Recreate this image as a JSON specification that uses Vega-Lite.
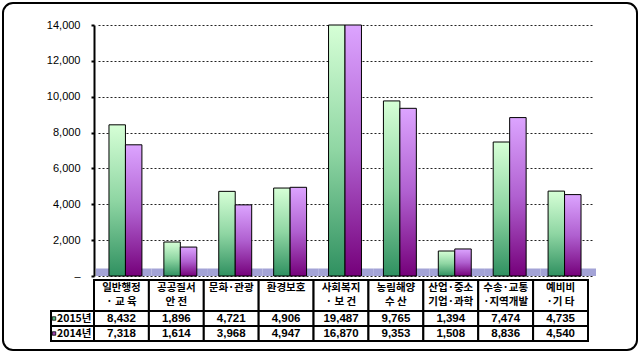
{
  "$schema": "https://vega.github.io/schema/vega-lite/v6.json",
  "autosize": {"type": "none"},
  "padding": {"left": 3, "top": 3, "right": 6, "bottom": 6},
  "width": 634,
  "height": 347,
  "background": "white",
  "config": {
    "view": {"stroke": "black", "strokeWidth": 2, "cornerRadius": 10, "fill": "white"},
    "text": {"font": "Noto Sans CJK KR"}
  },
  "datasets": {
    "vals": [
      {"cat": "일반행정·교육", "year": "2015", "value": 8432},
      {"cat": "공공질서·안전", "year": "2015", "value": 1896},
      {"cat": "문화·관광", "year": "2015", "value": 4721},
      {"cat": "환경보호", "year": "2015", "value": 4906},
      {"cat": "사회복지·보건", "year": "2015", "value": 19487},
      {"cat": "농림해양·수산", "year": "2015", "value": 9765},
      {"cat": "산업·중소기업·과학", "year": "2015", "value": 1394},
      {"cat": "수송·교통·지역개발", "year": "2015", "value": 7474},
      {"cat": "예비비·기타", "year": "2015", "value": 4735},
      {"cat": "일반행정·교육", "year": "2014", "value": 7318},
      {"cat": "공공질서·안전", "year": "2014", "value": 1614},
      {"cat": "문화·관광", "year": "2014", "value": 3968},
      {"cat": "환경보호", "year": "2014", "value": 4947},
      {"cat": "사회복지·보건", "year": "2014", "value": 16870},
      {"cat": "농림해양·수산", "year": "2014", "value": 9353},
      {"cat": "산업·중소기업·과학", "year": "2014", "value": 1508},
      {"cat": "수송·교통·지역개발", "year": "2014", "value": 8836},
      {"cat": "예비비·기타", "year": "2014", "value": 4540}
    ],
    "cats": [
      {"cat": "일반행정·교육", "label": "일반행정\n· 교   육"},
      {"cat": "공공질서·안전", "label": "공공질서\n안   전"},
      {"cat": "문화·관광", "label": "문화·관광"},
      {"cat": "환경보호", "label": "환경보호"},
      {"cat": "사회복지·보건", "label": "사회복지\n· 보  건"},
      {"cat": "농림해양·수산", "label": "농림해양\n수    산"},
      {"cat": "산업·중소기업·과학", "label": "산업·중소\n기업·과학"},
      {"cat": "수송·교통·지역개발", "label": "수송·교통\n·지역개발"},
      {"cat": "예비비·기타", "label": "예비비\n·기 타"}
    ],
    "years": [
      {"year": "2015", "label": "2015년"},
      {"year": "2014", "label": "2014년"}
    ]
  },
  "resolve": {"scale": {"x": "independent", "y": "independent", "color": "independent"}, "axis": {"x": "independent", "y": "independent"}},
  "layer": [
    {
      "data": {"name": "cats"},
      "mark": {"type": "rect", "color": "#a3a3d6", "opacity": 1},
      "encoding": {
        "x": {"field": "cat", "type": "nominal", "sort": null, "axis": null,
          "scale": {"domain": ["일반행정·교육", "공공질서·안전", "문화·관광", "환경보호", "사회복지·보건", "농림해양·수산", "산업·중소기업·과학", "수송·교통·지역개발", "예비비·기타"], "range": [93, 593], "paddingInner": 0, "paddingOuter": 0}},
        "y": {"datum": 0, "type": "quantitative", "axis": null, "scale": {"domain": [0, 14000], "range": [273, 22], "nice": false}},
        "y2": {"datum": 420}
      }
    },
    {
      "data": {"name": "vals"},
      "encoding": {
        "x": {"field": "cat", "type": "nominal", "sort": null, "axis": null,
          "scale": {"domain": ["일반행정·교육", "공공질서·안전", "문화·관광", "환경보호", "사회복지·보건", "농림해양·수산", "산업·중소기업·과학", "수송·교통·지역개발", "예비비·기타"], "range": [95, 589], "paddingInner": 0.4, "paddingOuter": 0.2}},
        "xOffset": {"field": "year", "type": "nominal", "scale": {"domain": ["2015", "2014"]}},
        "y": {"field": "value", "type": "quantitative",
          "scale": {"domain": [0, 14000], "range": [273, 22], "clamp": true, "nice": false, "zero": true},
          "axis": {"title": null, "orient": "left", "offset": -91, "values": [0, 2000, 4000, 6000, 8000, 10000, 12000, 14000],
            "labelExpr": "datum.value == 0 ? '–' : format(datum.value, ',')",
            "labelFont": "Liberation Sans", "labelFontSize": 11, "labelColor": "black", "labelPadding": 11,
            "tickSize": 3, "tickColor": "black", "tickWidth": 2,
            "domainColor": "black", "domainWidth": 2,
            "grid": true, "gridColor": "#222", "gridDash": [2, 2], "gridWidth": 1}}
      },
      "layer": [
        {"transform": [{"filter": "datum.year == '2015'"}],
         "mark": {"type": "bar", "stroke": "black", "strokeWidth": 1,
           "color": {"gradient": "linear", "x1": 0, "y1": 0, "x2": 0, "y2": 1, "stops": [{"offset": 0, "color": "#d6ffd6"}, {"offset": 0.5, "color": "#8fd6a3"}, {"offset": 1, "color": "#2f9060"}]}}},
        {"transform": [{"filter": "datum.year == '2014'"}],
         "mark": {"type": "bar", "stroke": "black", "strokeWidth": 1,
           "color": {"gradient": "linear", "x1": 0, "y1": 0, "x2": 0, "y2": 1, "stops": [{"offset": 0, "color": "#dca4ff"}, {"offset": 0.5, "color": "#b060d0"}, {"offset": 1, "color": "#75007a"}]}}}
      ]
    },
    {
      "data": {"name": "cats"},
      "encoding": {
        "x": {"field": "cat", "type": "nominal", "sort": null, "axis": null,
          "scale": {"domain": ["일반행정·교육", "공공질서·안전", "문화·관광", "환경보호", "사회복지·보건", "농림해양·수산", "산업·중소기업·과학", "수송·교통·지역개발", "예비비·기타"], "range": [91, 585], "paddingInner": 0, "paddingOuter": 0}},
        "y": {"datum": "h", "type": "nominal", "axis": null, "scale": {"domain": ["h"], "range": [277, 308], "paddingInner": 0, "paddingOuter": 0}}
      },
      "layer": [
        {"mark": {"type": "rect", "fill": "white", "stroke": "black", "strokeWidth": 2}},
        {"mark": {"type": "text", "lineBreak": "\n", "baseline": "top", "dy": 2.5, "fontSize": 10.5, "fontWeight": "bold", "lineHeight": 14, "color": "black"},
         "encoding": {"text": {"field": "label"}, "y": {"datum": "h", "type": "nominal", "bandPosition": 0}}}
      ]
    },
    {
      "data": {"name": "vals"},
      "encoding": {
        "x": {"field": "cat", "type": "nominal", "sort": null, "axis": null,
          "scale": {"domain": ["일반행정·교육", "공공질서·안전", "문화·관광", "환경보호", "사회복지·보건", "농림해양·수산", "산업·중소기업·과학", "수송·교통·지역개발", "예비비·기타"], "range": [91, 585], "paddingInner": 0, "paddingOuter": 0}},
        "y": {"field": "year", "type": "nominal", "axis": null, "scale": {"domain": ["2015", "2014"], "range": [308, 338], "paddingInner": 0, "paddingOuter": 0}}
      },
      "layer": [
        {"mark": {"type": "rect", "fill": "white", "stroke": "black", "strokeWidth": 2}},
        {"mark": {"type": "text", "fontSize": 11.5, "fontWeight": "bold", "color": "black", "font": "Liberation Sans"},
         "encoding": {"text": {"field": "value", "type": "quantitative", "format": ","}}}
      ]
    },
    {
      "data": {"name": "years"},
      "encoding": {
        "x": {"datum": "label", "type": "nominal", "axis": null, "scale": {"domain": ["label"], "range": [48, 91], "paddingInner": 0, "paddingOuter": 0}},
        "y": {"field": "year", "type": "nominal", "axis": null, "scale": {"domain": ["2015", "2014"], "range": [308, 338], "paddingInner": 0, "paddingOuter": 0}}
      },
      "layer": [
        {"mark": {"type": "rect", "fill": "white", "stroke": "black", "strokeWidth": 2}},
        {"mark": {"type": "text", "align": "left", "fontSize": 10.5, "fontWeight": "bold", "color": "black", "dx": 6},
         "encoding": {"text": {"field": "label"}, "x": {"datum": "label", "type": "nominal", "bandPosition": 0}}},
        {"mark": {"type": "square", "size": 12, "stroke": "black", "strokeWidth": 0.8, "opacity": 1},
         "encoding": {"x": {"datum": "label", "type": "nominal", "bandPosition": 0.07},
           "color": {"field": "year", "type": "nominal", "legend": null, "scale": {"domain": ["2015", "2014"], "range": ["#5ab884", "#a040b0"]}}}}
      ]
    }
  ]
}
